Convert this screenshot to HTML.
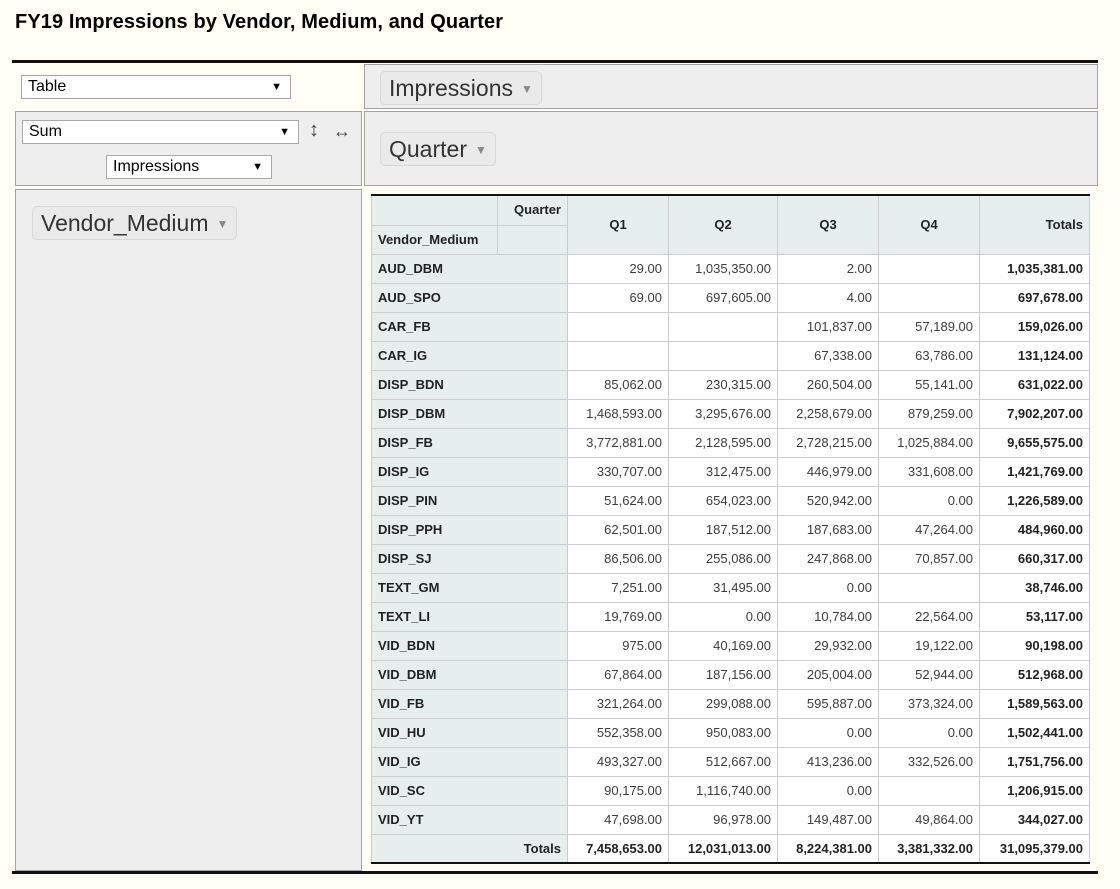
<!DOCTYPE html>
<html><head><meta charset="utf-8">
<style>
body{margin:0;width:1120px;height:889px;background:#fffff5;font-family:"Liberation Sans",Arial,sans-serif;position:relative;overflow:hidden;color:#000}
h1{position:absolute;left:15px;top:11px;margin:0;font-size:20px;font-weight:bold;letter-spacing:0.1px}
.rule{position:absolute;left:12px;width:1086px;height:3px;background:#111}
.box{position:absolute;background:#eeeeee;border:1px solid #a2a2a2;box-sizing:border-box}
.sel{position:absolute;background:#fff;border:1px solid #a9a9a9;box-sizing:border-box;font-size:16px;padding:1px 6px;height:24px;line-height:20px}
.sel .ar{position:absolute;right:8px;top:1px;font-size:11px}
.pill{position:absolute;border:1px solid #d8d8d8;border-radius:5px;background:#eaeaea;font-size:23px;color:#333;padding:2px 8px;height:34px;box-sizing:border-box;line-height:28px}
.pill .ar{font-size:12px;color:#888;margin-left:8px;vertical-align:3px}
table{position:absolute;left:371px;top:194px;border-collapse:collapse;table-layout:fixed;font-size:13px;border-top:2px solid #111;border-bottom:2px solid #111}
td,th{border:1px solid #cdcdcd;height:28px;padding:0 6px;box-sizing:border-box;white-space:nowrap;overflow:hidden}
th{background:#e6eeee;font-weight:bold;color:#222;text-align:left}
th.c{text-align:center}th.r{text-align:right}
td{background:#fff;text-align:right;color:#3d3d3d}
td.t{font-weight:bold;color:#222}
</style></head><body>
<h1>FY19 Impressions by Vendor, Medium, and Quarter</h1>
<div class="rule" style="top:60px"></div>
<div class="rule" style="top:871px"></div>

<div class="box" style="left:364px;top:64px;width:734px;height:45px"></div>
<div class="box" style="left:15px;top:111px;width:347px;height:75px"></div>
<div class="box" style="left:364px;top:111px;width:734px;height:75px"></div>
<div class="box" style="left:15px;top:189px;width:347px;height:682px"></div>

<div class="sel" style="left:21px;top:75px;width:270px">Table<span class="ar">▼</span></div>
<div class="sel" style="left:22px;top:120px;width:277px">Sum<span class="ar">▼</span></div>
<div style="position:absolute;left:309px;top:119px;font-size:20px;color:#444">↕</div>
<div style="position:absolute;left:333px;top:121px;font-size:18px;color:#444">↔</div>
<div class="sel" style="left:106px;top:155px;width:166px;text-align:left;padding-left:6px">Impressions<span class="ar">▼</span></div>

<div class="pill" style="left:380px;top:71px">Impressions<span class="ar">▼</span></div>
<div class="pill" style="left:380px;top:132px">Quarter<span class="ar">▼</span></div>
<div class="pill" style="left:32px;top:206px">Vendor_Medium<span class="ar">▼</span></div>

<table id="pt">
<colgroup><col style="width:126px"><col style="width:70px"><col style="width:101px"><col style="width:109px"><col style="width:101px"><col style="width:101px"><col style="width:110px"></colgroup>
<thead>
<tr style="height:30px"><th></th><th class="r" style="vertical-align:top;padding-top:6px">Quarter</th>
<th class="c" rowspan="2">Q1</th><th class="c" rowspan="2">Q2</th><th class="c" rowspan="2">Q3</th><th class="c" rowspan="2">Q4</th><th class="r" rowspan="2">Totals</th></tr>
<tr style="height:29px"><th>Vendor_Medium</th><th></th></tr>
</thead>
<tbody id="tb"></tbody>
</table>
<script>
const rows=["AUD_DBM","AUD_SPO","CAR_FB","CAR_IG","DISP_BDN","DISP_DBM","DISP_FB","DISP_IG","DISP_PIN","DISP_PPH","DISP_SJ","TEXT_GM","TEXT_LI","VID_BDN","VID_DBM","VID_FB","VID_HU","VID_IG","VID_SC","VID_YT"];
const q1=[29,69,null,null,85062,1468593,3772881,330707,51624,62501,86506,7251,19769,975,67864,321264,552358,493327,90175,47698];
const q2=[1035350,697605,null,null,230315,3295676,2128595,312475,654023,187512,255086,31495,0,40169,187156,299088,950083,512667,1116740,96978];
const q3=[2,4,101837,67338,260504,2258679,2728215,446979,520942,187683,247868,0,10784,29932,205004,595887,0,413236,0,149487];
const q4=[null,null,57189,63786,55141,879259,1025884,331608,0,47264,70857,null,22564,19122,52944,373324,0,332526,null,49864];
const fmt=v=>v==null?"":v.toLocaleString("en-US",{minimumFractionDigits:2,maximumFractionDigits:2});
const tb=document.getElementById("tb");
const series=[q1,q2,q3,q4];const colT=[0,0,0,0];let grand=0;
rows.forEach((r,i)=>{
  const tr=document.createElement("tr");tr.style.height="29px";
  
  
  const th=document.createElement("th");th.colSpan=2;th.textContent=r;
  
  
  tr.appendChild(th);
  let s=0;
  series.forEach((ser,j)=>{const td=document.createElement("td");td.textContent=fmt(ser[i]);
    
    
    if(ser[i]!=null){s+=ser[i];colT[j]+=ser[i];}tr.appendChild(td);});
  grand+=s;
  const td=document.createElement("td");td.className="t";td.textContent=fmt(s);
  
  
  tr.appendChild(td);tb.appendChild(tr);
});
const tr=document.createElement("tr");tr.style.height="29px";


const th=document.createElement("th");th.colSpan=2;th.className="r";th.textContent="Totals";


tr.appendChild(th);
colT.concat([grand]).forEach(v=>{const td=document.createElement("td");td.className="t";td.textContent=fmt(v);
  
  
  tr.appendChild(td);});
tb.appendChild(tr);
</script>
</body></html>
